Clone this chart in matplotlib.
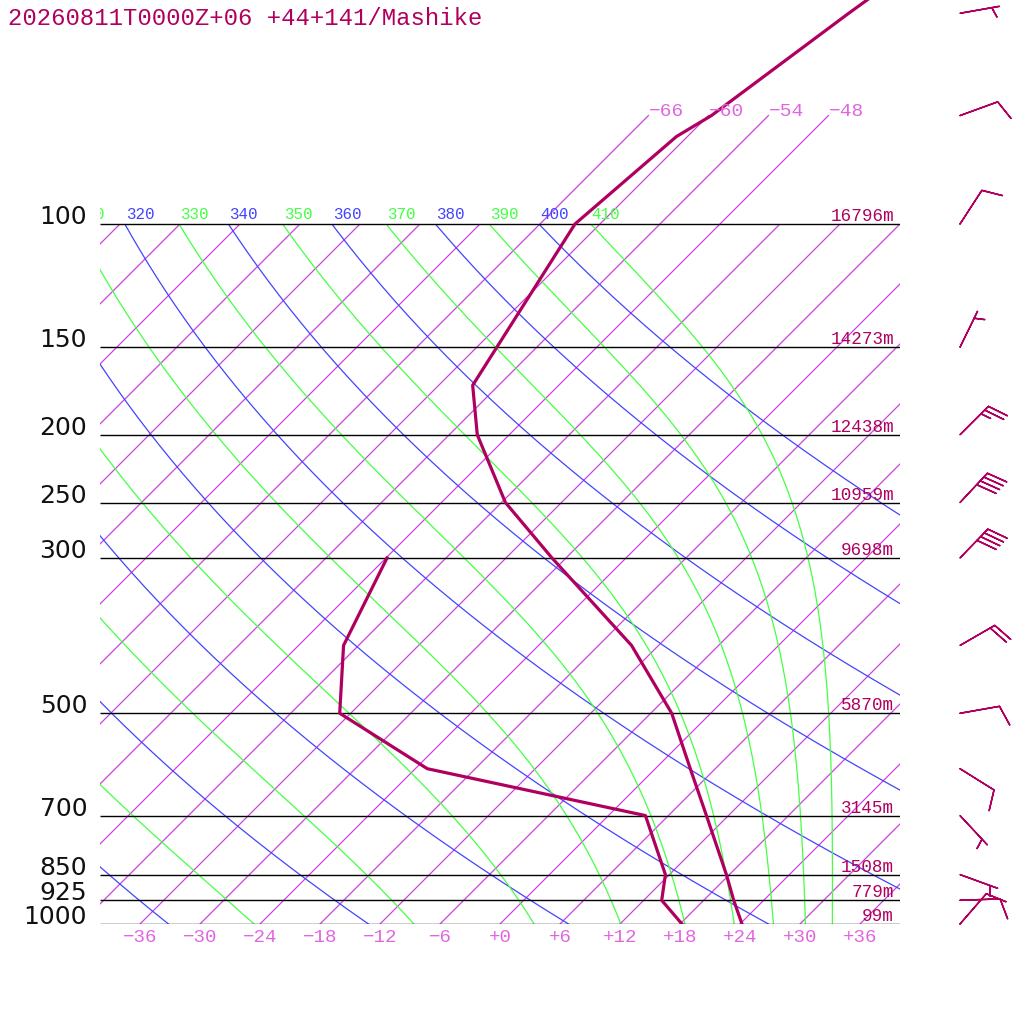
import numpy as np
import matplotlib
matplotlib.use('Agg')
import matplotlib.pyplot as plt
from matplotlib.patches import Rectangle
from matplotlib.transforms import offset_copy

# sounding
p_t = [1000, 925, 850, 700, 600, 500, 400, 300, 250, 200, 170, 100, 75, 70, 50, 30]
temp = [24.2, 21.0, 17.7, 9.8, 3.5, -3.9, -14.7, -31.4, -41.6, -51.2, -56.6,
        -62.5, -61.1, -59.7, -56.2, -50.3]
p_td = [1000, 925, 850, 700, 600, 500, 400, 300]
dewp = [18.2, 13.8, 11.6, 3.7, -22.8, -37.1, -43.5, -47.9]

# winds (direction deg, speed kt)
p_wind = [1000, 925, 850, 700, 600, 500, 400, 300, 250, 200, 150, 100, 70, 50]
wdir = [41, 88, 110, 137, 122, 80, 60, 44, 43, 45, 26, 33, 70, 80]
wspd = [10, 10, 5, 5, 10, 10, 20, 40, 40, 25, 5, 10, 10, 5]

# standard levels and heights
p_lines = [1000, 925, 850, 700, 500, 300, 250, 200, 150, 100]
heights = ['99m', '779m', '1508m', '3145m', '5870m', '9698m', '10959m',
           '12438m', '14273m', '16796m']

isotherms = np.arange(-108, 37, 6)
upper_isotherms = [-66, -60, -54, -48]
tick_temps = np.arange(-36, 37, 6)
thetas = np.arange(240, 401, 20)
theta_es = np.arange(250, 411, 20)

title = '20260811T0000Z+06 +44+141/Mashike'

c_prof = '#B0005F'
c_iso = '#CC44DD'
c_isolab = '#E066E0'
c_dry = '#4444FF'
c_moist = '#44FF44'
mono = 'Liberation Mono'

SKEW = 30.4  # deg C per ln(p) unit -> 45 degree isotherms


def skew(t, p):
    return np.asarray(t, float) + SKEW * np.log(1000.0 / np.asarray(p, float))


def thetae_sat(tk, p):
    tc = tk - 273.15
    es = 6.112 * np.exp(17.67 * tc / (tc + 243.5))
    r = 622.0 * es / (p - es)
    return (tk * (1000.0 / p) ** (0.2854 * (1 - 0.28e-3 * r))
            * np.exp((3.376 / tk - 0.00254) * r * (1 + 0.81e-3 * r)))


def moist_t(the, p):
    lo = np.full_like(p, 150.0)
    hi = np.full_like(p, 310.0)
    for _ in range(60):
        mid = 0.5 * (lo + hi)
        big = thetae_sat(mid, p) > the
        hi = np.where(big, mid, hi)
        lo = np.where(big, lo, mid)
    return 0.5 * (lo + hi) - 273.15


fig = plt.figure(figsize=(10.24, 10.24), dpi=100)
ax = fig.add_axes([100 / 1024, 100 / 1024, 800 / 1024, 924 / 1024])
ax.set_yscale('log')
ax.set_xlim(-40, 40)
p_top = 1000 * (100 / 1000) ** (924 / 700)
ax.set_ylim(1000, p_top)
ax.set_axis_off()

box = Rectangle((-40, 100), 80, 900, transform=ax.transData)
pp = np.geomspace(1000, 100, 300)

for t0 in isotherms:
    ln, = ax.plot(skew([t0, t0], [1000, 100]), [1000, 100], color=c_iso, lw=0.9)
    ln.set_clip_path(box)

for t0 in upper_isotherms:
    ax.plot(skew([t0, t0], [100, 70]), [100, 70], color=c_iso, lw=0.9)
    ax.text(skew(t0, 70), 70, f'{t0:+d}'.replace('-', '\u2212'),
            transform=offset_copy(ax.transData, fig=fig, x=0, y=0, units='dots'),
            ha='left', va='baseline', color=c_isolab, family=mono, fontsize=14)

lab_tr = offset_copy(ax.transData, fig=fig, x=1, y=5, units='dots')
for th in thetas:
    tt = th * (pp / 1000.0) ** 0.286 - 273.15
    ln, = ax.plot(skew(tt, pp), pp, color=c_dry, lw=0.9)
    ln.set_clip_path(box)
    xl = skew(tt[-1], 100)
    if xl > -45:
        ax.text(xl, 100, str(th), transform=lab_tr, ha='left', va='baseline',
                color=c_dry, family=mono, fontsize=11.4, clip_on=True)

for the in theta_es:
    tt = moist_t(the, pp)
    ln, = ax.plot(skew(tt, pp), pp, color=c_moist, lw=0.9)
    ln.set_clip_path(box)
    xl = skew(tt[-1], 100)
    if xl > -45:
        ax.text(xl, 100, str(the), transform=lab_tr, ha='left', va='baseline',
                color=c_moist, family=mono, fontsize=11.4, clip_on=True)

ax.hlines(p_lines, -40, 40, colors='black', lw=1.0)

ax.plot(skew(temp, p_t), p_t, color=c_prof, lw=2.3)
ax.plot(skew(dewp, p_td), p_td, color=c_prof, lw=2.3)

# labels
ylab_tr = ax.get_yaxis_transform()
for p in p_lines:
    ax.text(-0.016, p, str(p), transform=ylab_tr, ha='right', va='baseline',
            fontsize=18, family='DejaVu Sans', color='#111111', clip_on=False)

h_tr = offset_copy(ylab_tr, fig=fig, x=0, y=3, units='dots')
for p, h in zip(p_lines, heights):
    ax.text(0.9925, p, h, transform=h_tr, ha='right', va='baseline',
            color=c_prof, family=mono, fontsize=12.7, clip_on=False)

tick_tr = offset_copy(ax.transData, fig=fig, x=0, y=-18, units='dots')
for t0 in tick_temps:
    ax.text(t0, 1000, f'{t0:+d}'.replace('-', '\u2212'), transform=tick_tr,
            ha='center', va='baseline', color=c_isolab, family=mono,
            fontsize=13.8, clip_on=False)

fig.text(8 / 1024, 1 - 25 / 1024, title, ha='left', va='baseline',
         color=c_prof, family=mono, fontsize=17.2)

# wind barbs
wd = np.radians(wdir)
u = -np.array(wspd) * np.sin(wd)
v = -np.array(wspd) * np.cos(wd)
ax.barbs(np.full(len(p_wind), 46.0), p_wind, u, v, length=7.6,
         color=c_prof, linewidth=1.1, clip_on=False,
         sizes=dict(spacing=0.13, height=0.5, width=0.34))

fig.savefig('out.png', dpi=100)
